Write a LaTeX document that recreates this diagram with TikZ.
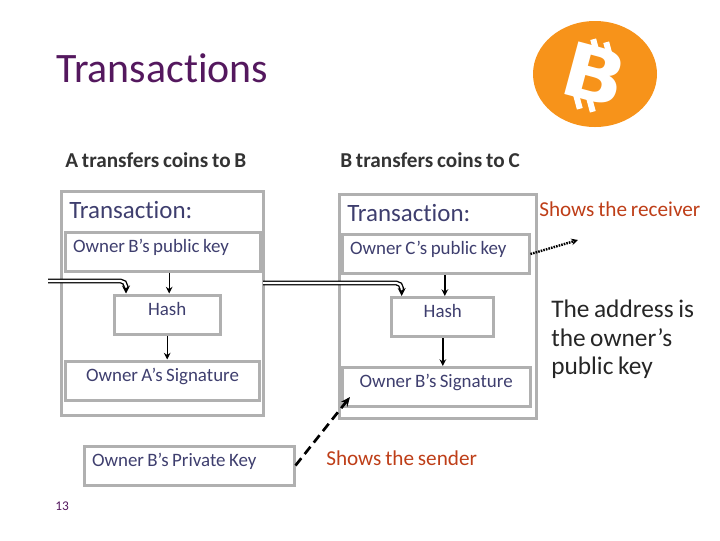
\documentclass[tikz,border=0pt]{standalone}
\usepackage{fontspec}
\setmainfont[Ligatures=NoCommon,WordSpace=0.8]{Carlito}
\newfontfamily\logofont{DejaVu Sans}
\usetikzlibrary{arrows.meta,positioning,calc,shapes.geometric}
\definecolor{txpurple}{RGB}{84,24,94}
\definecolor{txink}{RGB}{62,62,110}
\definecolor{txred}{RGB}{190,62,24}
\definecolor{txgray}{RGB}{176,176,176}
\definecolor{txorange}{RGB}{247,147,26}
\newcommand{\tightwords}{\spaceskip=0.18em\relax}

\begin{document}
\begin{tikzpicture}[
        x=0.75pt, y=-0.75pt,
        frame/.style={draw=txgray, line width=2.25pt, inner sep=0pt},
        box/.style={draw=txgray, line width=2.25pt, inner ysep=0pt, inner xsep=6pt, text height=15pt, text depth=14.25pt,
          text=txink, font=\fontsize{14.2}{16}\selectfont},
        heading/.style={font=\fontsize{15.9}{18}\selectfont\bfseries, text=black!80, inner sep=0pt},
        remark/.style={font=\fontsize{15.9}{18}\selectfont, text=txred, inner sep=0pt},
        flow/.style={-{Stealth[length=5pt,width=5pt]}, line width=1pt},
        chain/.style={-{Stealth[length=6pt,width=6pt]}, line width=1pt, double, double distance=1.6pt, rounded corners=4pt}]
        \useasboundingbox (0,0) rectangle (720,540);
        \node[anchor=west, inner sep=0pt, text=txpurple, font=\fontsize{31.4}{35}\selectfont] (title) at (56,68) {Transactions};
        % logo
        \node[ellipse, fill=txorange, minimum width=93pt, minimum height=79.5pt, inner sep=0pt] (coin) at (595,74) {};
        \node[rotate=-15, xscale=1.1, text=white, inner sep=0pt, font=\fontsize{56}{60}\logofont\bfseries] (coinb) at (595,74) {B};
        \foreach \bx/\by in {595/46, 608/49, 578/102, 591/105}
          \fill[white, rotate around={15:(\bx,\by)}] ($(\bx,\by)+(-3,-7)$) rectangle ($(\bx,\by)+(3,7)$);

        \node[heading, anchor=west] (headA) at (65,160) {A transfers coins to B};
        \node[heading, anchor=west] (headB) at (340,160) {B transfers coins to C};

        \node[frame, minimum width=151.5pt, minimum height=168pt] (outerA) at (162,303) {};
        \node[frame, minimum width=147.75pt, minimum height=168pt] (outerB) at (437.5,306) {};

        \node[anchor=west, inner sep=0pt, text=txink, font=\fontsize{18.7}{21}\selectfont] (txA) at (69,210) {Transaction:};
        \node[anchor=west, inner sep=0pt, text=txink, font=\fontsize{18.7}{21}\selectfont] (txB) at (347,213) {Transaction:};

        \node[box, text width=134.25pt, align=left] (keyA) at (162.5,251.5) {\tightwords Owner B’s public key};
        \node[box, text width=67.5pt, align=center, below=15.75pt of keyA, xshift=3.5pt] (hashA) {Hash};
        \node[box, text width=133.5pt, align=center, below=18pt of hashA, xshift=-3.5pt] (sigA) {\tightwords Owner A’s Signature};
        \node[box, text width=128.25pt, align=left] (keyB) at (435.5,254) {\tightwords Owner C’s public key};
        \node[box, text width=64.5pt, align=center, below=15.75pt of keyB, xshift=5.5pt] (hashB) {Hash};
        \node[box, text width=129pt, align=center, below=21pt of hashB, xshift=-5pt] (sigB) {\tightwords Owner B’s Signature};
        \node[box, text width=145.5pt, align=left] (privB) at (189,465.5) {\tightwords Owner B’s Private Key};

        \node[remark, anchor=west] (sender) at (326,458) {Shows the sender};
        \node[remark, anchor=west] (receiver) at (539,209) {Shows the receiver};
        \node[anchor=north west, inner sep=0pt, align=left, text=black!85, font=\fontsize{19}{21.4}\selectfont] (address) at (551,300)
          {The address is\\the owner’s\\public key};
        \node[anchor=west, inner sep=0pt, text=txpurple, font=\fontsize{10}{12}\selectfont] (pagenum) at (55,506) {13};

        \coordinate (chainA) at (48,281);
        \coordinate (chainB) at (263,283);
        \coordinate (sigIn) at (350,397);
        \coordinate (keyOut) at (578,240);

        \draw[flow] ([xshift=1.5pt]keyA.south -| hashA.north) -- ([xshift=1.5pt]hashA.north);
        \draw[flow] (hashA.south) -- (hashA.south |- sigA.north);
        \draw[flow] ([xshift=1.5pt]keyB.south -| hashB.north) -- ([xshift=1.5pt]hashB.north);
        \draw[flow] (hashB.south) -- (hashB.south |- sigB.north);
        \draw[chain] (chainA) -| ([xshift=10pt]hashA.north west);
        \draw[chain] (chainB) -| ([xshift=8.5pt]hashB.north west);
        \draw[-{Stealth[length=7pt,width=6pt]}, line width=2pt, dash pattern=on 7pt off 4pt] (privB.east) -- (sigIn);
        \draw[-{Stealth[length=5pt,width=5pt]}, line width=1.8pt, dash pattern=on 1.2pt off .8pt] (keyB.east) -- (keyOut);
      \end{tikzpicture}
\end{document}
